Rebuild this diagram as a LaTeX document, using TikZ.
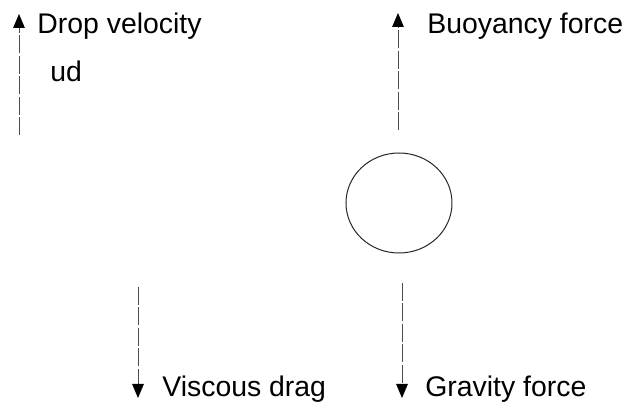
\documentclass[tikz,border=0pt]{standalone}
\usepackage{fontspec}
\setmainfont{Liberation Sans}
\usetikzlibrary{shapes.geometric, arrows.meta, positioning}

\begin{document}
\begin{tikzpicture}[x=0.5pt, y=-0.5pt,
    lbl/.style={anchor=base west, inner sep=0pt,
        font=\fontsize{14.2}{17}\selectfont},
    force/.style={-{Triangle[length=7pt, width=5.8pt, fill=black, color=black]},
        line width=0.45pt, draw=black!70, dash pattern=on 9pt off 1.2pt},
    drop/.style={ellipse, draw=black!85, line width=0.5pt,
        minimum width=53pt, minimum height=50pt, inner sep=0pt}
]
\useasboundingbox (0,0) rectangle (629,412);
% left column: drop velocity and viscous drag
\coordinate (uTail) at (19,135);
\coordinate (uHead) at (19,14);
\coordinate (dragTail) at (138,287);
\coordinate (dragHead) at (138,398);
\node[lbl] (uLbl)    at (37,33)   {Drop velocity};
\node[lbl] (udLbl)   at (50,82)   {ud};
\node[lbl] (dragLbl) at (162,397) {Viscous drag};
% right column: the drop with buoyancy and gravity
\node[drop] (bubble) at (399,203) {};
\coordinate (buoyTail) at (398,130);
\coordinate (buoyHead) at (398,13);
\coordinate (gravTail) at (402,283);
\coordinate (gravHead) at (402,398);
\node[lbl] (buoyLbl) at (427,33)  {Buoyancy force};
\node[lbl] (gravLbl) at (425,397) {Gravity force};
% arrows
\draw[force] (uTail)    -- (uHead);
\draw[force] (dragTail) -- (dragHead);
\draw[force] (buoyTail) -- (buoyHead);
\draw[force] (gravTail) -- (gravHead);
\end{tikzpicture}
\end{document}
